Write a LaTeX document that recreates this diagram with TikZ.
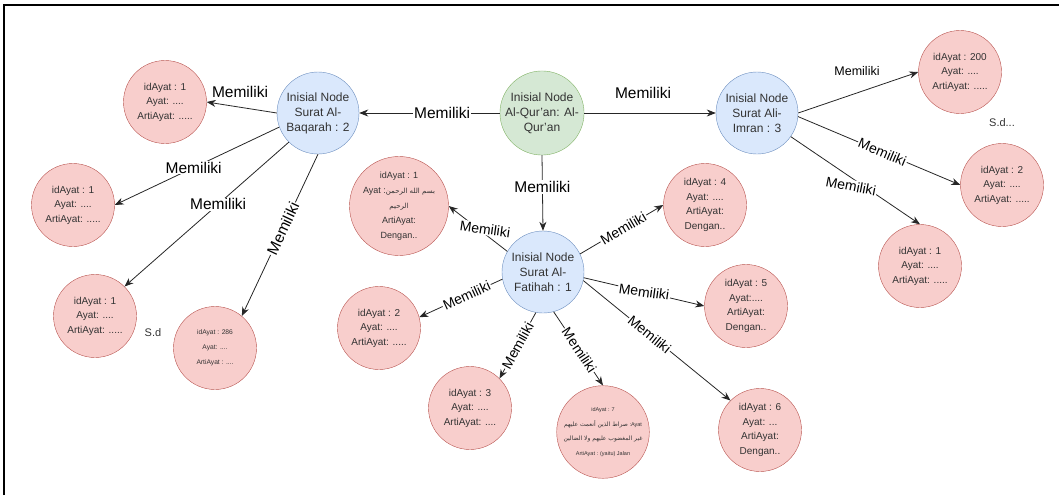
\documentclass[tikz,border=0pt]{standalone}
\usepackage{fontspec}
\setmainfont{Liberation Sans}
\newfontfamily\arabicfont[Script=Arabic]{DejaVu Sans}
\TeXXeTstate=1
\usepackage{xcolor}
\usetikzlibrary{arrows.meta}

\definecolor{ayatfill}{HTML}{F8CECC}
\definecolor{ayatline}{HTML}{B85450}
\definecolor{suratfill}{HTML}{DAE8FC}
\definecolor{suratline}{HTML}{6C8EBF}
\definecolor{quranfill}{HTML}{D5E8D4}
\definecolor{quranline}{HTML}{82B366}

\newcommand{\ayatar}[2][7]{{\arabicfont\fontsize{#1}{#1}\selectfont\beginR #2\endR}}

\begin{document}
\begin{tikzpicture}[x=1pt, y=-1pt,
    ayat/.style={circle, draw=ayatline, fill=ayatfill, minimum size=83pt, inner sep=0pt, align=center, text=black!80, font=\fontsize{10}{14.5}\selectfont},
    ayatkecil/.style={ayat, font=\fontsize{6.7}{15}\selectfont},
    surat/.style={circle, draw=suratline, fill=suratfill, minimum size=82pt, inner sep=0pt, align=center, text=black!80, font=\fontsize{12}{15}\selectfont},
    quran/.style={surat, draw=quranline, fill=quranfill},
    link/.style={draw=black!85, line width=0.8pt, -{Stealth[length=9pt, width=7pt]}},
    lbl/.style={fill=white, inner sep=1pt, font=\fontsize{15.5}{18}\selectfont},
    lbls/.style={lbl, font=\fontsize{14}{16}\selectfont},
    catatan/.style={font=\fontsize{11}{13}\selectfont, text=black!80}
  ]
  \useasboundingbox (0,0) rectangle (1059,495);
  \draw[line width=2pt] (3.7,495) -- (3.7,5) -- (1059,5);

  \node[quran] (qr) at (542,113) {Inisial Node\\Al-Qur'an: Al-\\Qur'an};
  \node[surat] (bq) at (318,113) {Inisial Node\\Surat Al-\\Baqarah : 2};
  \node[surat] (im) at (757,113) {Inisial Node\\Surat Ali-\\Imran : 3};
  \node[surat] (fat) at (543,272) {Inisial Node\\Surat Al-\\Fatihah : 1};

  \node[ayat] (b1) at (165,102) {idAyat : 1\\Ayat: ....\\ArtiAyat: .....};
  \node[ayat] (b2) at (73,205) {idAyat : 1\\Ayat: ....\\ArtiAyat: .....};
  \node[ayat] (b3) at (95,316) {idAyat : 1\\Ayat: ....\\ArtiAyat: .....};
  \node[ayatkecil] (b286) at (215,348) {idAyat : 286\\Ayat: ....\\ArtiAyat : ....};

  \node[ayat, font=\fontsize{9}{15}\selectfont] (f1) at (399,206) {idAyat : 1\\Ayat :\ayatar{بسم الله الرحمن}\\\ayatar{الرحيم}\\ArtiAyat:\\Dengan..};
  \node[ayat] (f4) at (705,205) {idAyat : 4\\Ayat: ....\\ArtiAyat:\\Dengan..};
  \node[ayat] (f2) at (379,328) {idAyat : 2\\Ayat: ....\\ArtiAyat: .....};
  \node[ayat] (f5) at (746,306) {idAyat : 5\\Ayat:....\\ArtiAyat:\\Dengan..};
  \node[ayat] (f3) at (470,408) {idAyat : 3\\Ayat: ....\\ArtiAyat: ....};
  \node[ayat, font=\fontsize{5.5}{14.5}\selectfont] (f7) at (603,432) {idAyat : 7\\\ayatar[6]{صراط الذين أنعمت عليهم} :Ayat\\\ayatar[6]{غير المغضوب عليهم ولا الضالين}\\ArtiAyat : (yaitu) Jalan};
  \node[ayat] (f6) at (760,430) {idAyat : 6\\Ayat: ...\\ArtiAyat:\\Dengan..};

  \node[ayat] (i200) at (960,72) {idAyat : 200\\Ayat: ....\\ArtiAyat: .....};
  \node[ayat] (i2) at (1002,185) {idAyat : 2\\Ayat: ....\\ArtiAyat: .....};
  \node[ayat] (i1) at (920,266) {idAyat : 1\\Ayat: ....\\ArtiAyat: .....};

  \node[catatan] (sd1) at (153,333) {S.d};
  \node[catatan] (sd2) at (1002,123) {S.d...};

  \draw[link] (qr.west) -- node[lbl, pos=0.41] {Memiliki} (bq.east);
  \draw[link] (qr.east) -- (im.west);
  \node[lbl] (lqi) at (643,93) {Memiliki};
  \draw[link] (qr.south) -- node[lbl, pos=0.42] {Memiliki} (fat.north);

  \draw[link] (bq.west) -- (b1.east);
  \node[lbl] (lb1) at (240,92) {Memiliki};
  \draw[link] (bq.200) -- node[lbl, pos=0.52] {Memiliki} (b2.east);
  \draw[link] (bq.225) -- node[lbl, pos=0.43] {Memiliki} (b3.45);
  \draw[link] (bq.south) -- node[lbl, sloped, pos=0.46] {Memiliki} (b286.50);

  \draw[link] (fat.150) -- (f1.east);
  \node[lbls, rotate=-8] (lf1) at (485,229) {Memiliki};
  \draw[link] (fat.26) -- node[lbls, sloped, pos=0.52] {Memiliki} (f4.west);
  \draw[link] (fat.-8) -- node[lbls, rotate=-8, pos=0.5] {Memiliki} (f5.west);
  \draw[link] (fat.-12) -- node[lbls, sloped, pos=0.45] {Memiliki} (f6.135);
  \draw[link] (fat.190) -- node[lbls, sloped, pos=0.43] {Memiliki} (f2.15);
  \draw[link] (fat.260) -- node[lbls, sloped, pos=0.5] {Memiliki} (f3.45);
  \draw[link] (fat.285) -- node[lbls, sloped, pos=0.52] {Memiliki} (f7.north);

  \draw[link] (im.east) -- (i200.west);
  \node[lbls, font=\fontsize{12.5}{15}\selectfont] (li200) at (857,71) {Memiliki};
  \draw[link] (im.-5) -- node[lbls, sloped, pos=0.52] {Memiliki} (i2.west);
  \draw[link] (im.-35) -- (i1.north);
  \node[lbls, rotate=-11] (li1) at (851,186) {Memiliki};
\end{tikzpicture}
\end{document}
